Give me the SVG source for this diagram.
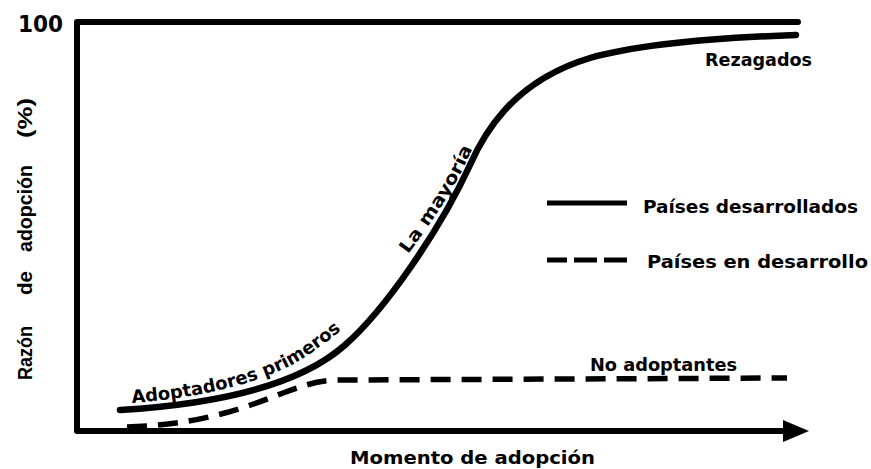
<svg xmlns="http://www.w3.org/2000/svg" width="871" height="469" viewBox="0 0 871 469">
<defs>
<style>
.t{font-family:"DejaVu Sans","Liberation Sans",sans-serif;font-weight:bold;fill:#000;font-size:18px}
.y{font-size:20px;font-family:"Liberation Sans","DejaVu Sans",sans-serif}
.ax{fill:none;stroke:#000;stroke-width:6;stroke-linejoin:round;stroke-linecap:round}
.solid{fill:none;stroke:#000;stroke-width:6.5;stroke-linecap:round}
.dash{fill:none;stroke:#000;stroke-width:5.5;stroke-dasharray:20 11}
</style>
<path id="p1" d="M130,403 C190,399 260,385 300,360 C320,348 335,335 352,322"/>
<path id="p2" d="M408,254 C430,225 454,190 468,158 L482,128"/>
</defs>
<rect width="871" height="469" fill="#fff"/>
<g id="axes">
<path class="ax" d="M798,22 L77,22 L77,431 L788,431"/>
<polygon points="783,420 809,431 783,442" fill="#000"/>
</g>
<g id="connectors">
<path id="curve-developed" class="solid" d="M120,410 C220,404 300,385 345,345 C385,310 440,230 470,165 C482,138 510,82 590,58 C640,44 710,38 796,35"/>
<path id="curve-developing" class="dash" d="M127,427 C220,424 265,398 300,387 C315,382 325,380 345,380 L787,378"/>
</g>
<g id="legend">
<line x1="547" y1="203" x2="627" y2="203" stroke="#000" stroke-width="5"/>
<g stroke="#000" stroke-width="5">
<line x1="547" y1="260" x2="567" y2="260"/>
<line x1="574" y1="260" x2="597" y2="260"/>
<line x1="604" y1="260" x2="627" y2="260"/>
</g>
<text class="t" x="643" y="213" textLength="215" lengthAdjust="spacingAndGlyphs">Países desarrollados</text>
<text class="t" x="647" y="268" textLength="221" lengthAdjust="spacingAndGlyphs">Países en desarrollo</text>
</g>
<g id="labels">
<text class="t" x="18" y="32" style="font-size:23px" textLength="45" lengthAdjust="spacingAndGlyphs">100</text>
<g transform="rotate(-90)">
<text class="t y" x="-380" y="32" textLength="54" lengthAdjust="spacingAndGlyphs">Razón</text>
<text class="t y" x="-295" y="32" textLength="24" lengthAdjust="spacingAndGlyphs">de</text>
<text class="t y" x="-252" y="32" textLength="87" lengthAdjust="spacingAndGlyphs">adopción</text>
<text class="t y" x="-138" y="32" textLength="40" lengthAdjust="spacingAndGlyphs">(%)</text>
</g>
<text class="t" x="350" y="464" textLength="245" lengthAdjust="spacingAndGlyphs">Momento de adopción</text>
<text class="t" x="705" y="66" textLength="107" lengthAdjust="spacingAndGlyphs">Rezagados</text>
<text class="t" x="590" y="371" textLength="147" lengthAdjust="spacingAndGlyphs">No adoptantes</text>
<text class="t"><textPath href="#p1" startOffset="2" textLength="226" lengthAdjust="spacingAndGlyphs">Adoptadores primeros</textPath></text>
<text class="t"><textPath href="#p2" startOffset="0" textLength="124" lengthAdjust="spacingAndGlyphs">La mayoría</textPath></text>
</g>
</svg>
